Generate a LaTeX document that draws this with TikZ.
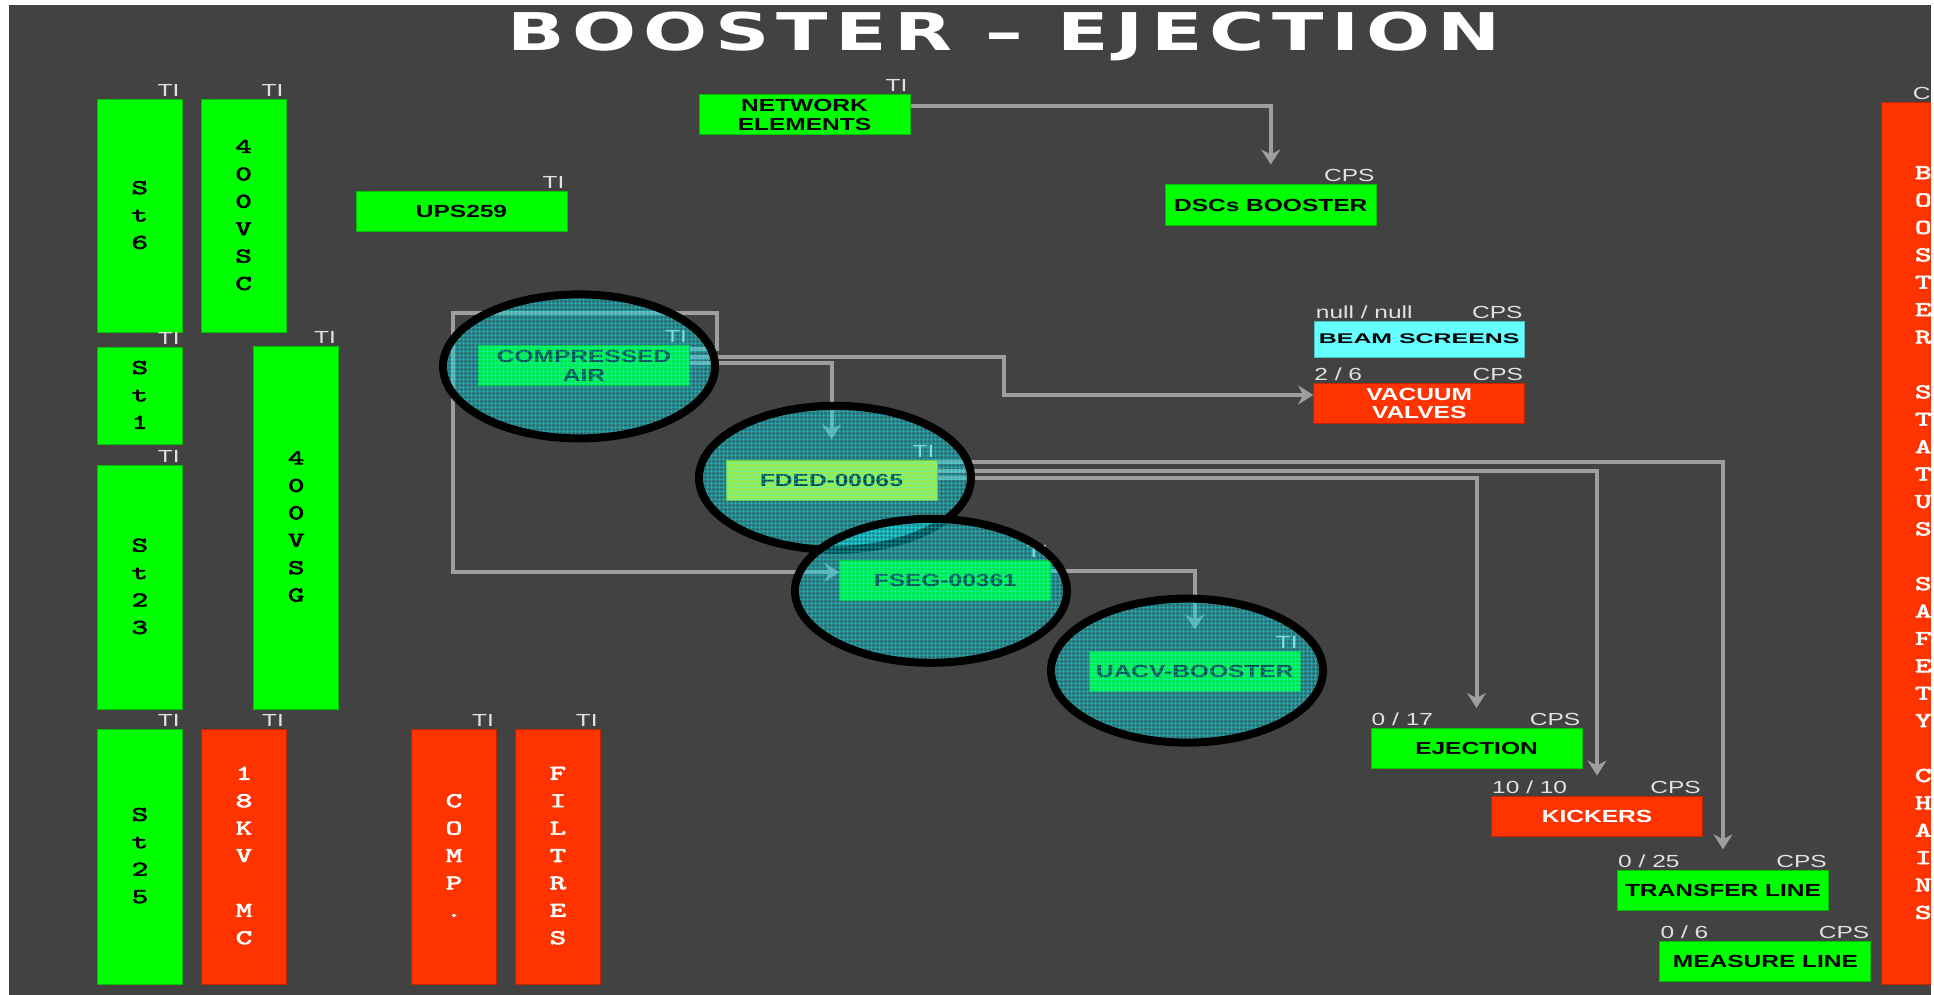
\documentclass[tikz,border=0pt]{standalone}
\usepackage{fontspec}
\usepackage{graphicx}
\usetikzlibrary{arrows.meta,patterns.meta,calc}
\newfontfamily\lblfont{Liberation Sans}[FakeStretch=1.4]
\newfontfamily\titlefont{DejaVu Sans}[FakeStretch=1.45,LetterSpace=14]
\newfontfamily\vfont{lmmono10-regular}[Extension=.otf,FakeBold=2.5]
\definecolor{bg}{RGB}{66,66,66}
\definecolor{okgreen}{RGB}{0,255,0}
\definecolor{alarm}{RGB}{255,51,0}
\definecolor{scrcyan}{RGB}{102,255,255}
\definecolor{warnyel}{RGB}{250,255,0}
\definecolor{wire}{RGB}{158,158,158}
\definecolor{lblgray}{RGB}{225,225,225}
\definecolor{ovl}{RGB}{0,200,212}
\definecolor{ovlg}{RGB}{40,255,255}
\newcommand\vst[1]{\scalebox{1.5}[1]{\begin{tabular}{@{}c@{}}#1\end{tabular}}}
\begin{document}
\begin{tikzpicture}[x=1pt,y=-1pt,
  vcell/.style={draw=#1!75!black, line width=1pt, fill=#1, minimum width=85pt, inner sep=0pt,
    font=\vfont\fontsize{21}{27.4}\selectfont},
  hcell/.style={draw=#1!75!black, line width=1pt, fill=#1, minimum width=211pt, minimum height=40pt,
    inner sep=0pt, align=center, font=\lblfont\bfseries\fontsize{17.5}{18.4}\selectfont},
  lbl/.style={text=lblgray, inner sep=0pt, font=\lblfont\fontsize{17.5}{18}\selectfont},
  tir/.style={lbl, anchor=base east},
  til/.style={lbl, anchor=base west},
  wire/.style={draw=wire, line width=4pt, -{Stealth[length=15pt,width=19pt,inset=5pt]}},
  ovlfill/.style={fill=ovl, fill opacity=0.38},
  ovlgrid/.style={pattern={Hatch[angle=0,distance=4pt,line width=1pt]}, pattern color=ovlg, fill opacity=0.38},
  ring/.style={draw=black, line width=8pt}
]
\useasboundingbox (0,0) rectangle (1934,995);
\fill[white] (0,0) rectangle (1934,995);
\fill[bg] (9,5) rectangle (1931,995);

% title
\node[font=\titlefont\bfseries\fontsize{52}{52}\selectfont, text=white, anchor=base, inner sep=0pt] (title) at (1004.5,51) {BOOSTER – EJECTION};

% vertical boxes
\node[vcell=okgreen, minimum height=232pt] (st6) at (139.7,216) {\vst{S\\t\\6}};
\node[vcell=okgreen, minimum height=232pt] (vsc) at (243.6,216) {\vst{4\\0\\0\\V\\S\\C}};
\node[vcell=okgreen, minimum height=96.5pt] (st1) at (139.8,395.9) {\vst{S\\t\\1}};
\node[vcell=okgreen, minimum height=363pt] (vsg) at (296.2,527.5) {\vst{4\\0\\0\\V\\S\\G}};
\node[vcell=okgreen, minimum height=244.5pt] (st23) at (139.8,587.3) {\vst{S\\t\\2\\3}};
\node[vcell=okgreen, minimum height=255pt] (st25) at (139.9,856.5) {\vst{S\\t\\2\\5}};
\node[vcell=alarm, text=white, minimum height=255pt] (kv) at (244,856.5) {\vst{1\\8\\K\\V\\ \\M\\C}};
\node[vcell=alarm, text=white, minimum height=255pt] (comp) at (454,856.5) {\vst{C\\O\\M\\P\\.}};
\node[vcell=alarm, text=white, minimum height=255pt] (filt) at (557.9,856.5) {\vst{F\\I\\L\\T\\R\\E\\S}};
\node[vcell=alarm, text=white, minimum width=83.5pt, minimum height=881pt] (bsc) at (1923.25,543.5)
  {\vst{B\\O\\O\\S\\T\\E\\R\\ \\S\\T\\A\\T\\U\\S\\ \\S\\A\\F\\E\\T\\Y\\ \\C\\H\\A\\I\\N\\S}};

% horizontal boxes
\node[hcell=okgreen] (ups) at (461.5,211.7) {UPS259};
\node[hcell=okgreen] (ne) at (804.5,115) {NETWORK\\ELEMENTS};
\node[hcell=okgreen] (dsc) at (1270.75,205) {DSCs BOOSTER};
\node[hcell=scrcyan, minimum height=36pt, minimum width=210pt] (beam) at (1419.2,339.1)
  {\fontsize{14}{14}\selectfont\scalebox{1.27}[1]{BEAM SCREENS}};
\node[hcell=alarm, text=white] (vv) at (1419.2,403.3) {VACUUM\\VALVES};
\node[hcell=okgreen] (ca) at (584,365.9) {COMPRESSED\\AIR};
\node[hcell=warnyel] (fded) at (831.5,480) {FDED-00065};
\node[hcell=okgreen] (fseg) at (945.3,580.9) {FSEG-00361};
\node[hcell=okgreen] (uacv) at (1194.75,671) {UACV-BOOSTER};
\node[hcell=okgreen] (ej) at (1476.5,748.5) {EJECTION};
\node[hcell=alarm, text=white] (kick) at (1597,816.5) {KICKERS};
\node[hcell=okgreen] (tl) at (1723,890.2) {TRANSFER LINE};
\node[hcell=okgreen] (ml) at (1765.4,961.9) {MEASURE LINE};

% labels
\foreach \n in {st6,vsc,st1,vsg,st23,st25,kv,comp,filt,ups,ne,ca,fded,fseg,uacv}
  \node[tir] (\n-ti) at ([xshift=-3pt,yshift=2.5pt]\n.north east) {TI};
\foreach \n in {dsc,beam,vv,ej,kick,tl,ml,bsc}
  \node[tir] (\n-cps) at ([xshift=-2pt,yshift=2.5pt]\n.north east) {CPS};
\node[til] (beam-cnt) at ([xshift=2pt,yshift=2.5pt]beam.north west) {null / null};
\node[til] (vv-cnt) at ([xshift=1pt,yshift=2.5pt]vv.north west) {2 / 6};
\node[til] (ej-cnt) at ([xshift=1pt,yshift=2.5pt]ej.north west) {0 / 17};
\node[til] (kick-cnt) at ([xshift=1pt,yshift=2.5pt]kick.north west) {10 / 10};
\node[til] (tl-cnt) at ([xshift=1pt,yshift=2.5pt]tl.north west) {0 / 25};
\node[til] (ml-cnt) at ([xshift=1pt,yshift=2.5pt]ml.north west) {0 / 6};

% connectors
\coordinate (loopc) at (452.7,312.7);
\coordinate (vvbend) at (1003.6,395);
\draw[wire] ([yshift=9pt]ne.east) -| ([yshift=20pt]dsc.north);
\draw[wire] ([yshift=17pt]ca.east) -- ++(27,0) |- (loopc) |- ([yshift=8.6pt]fseg.west);
\draw[wire] ([yshift=9pt]ca.east) -| (vvbend) -- ([yshift=8.3pt]vv.west);
\draw[wire] ([yshift=3pt]ca.east) -| ([yshift=20pt]fded.north);
\draw[wire] ([yshift=18pt]fded.east) -| ([yshift=20.4pt]tl.north);
\draw[wire] ([yshift=9pt]fded.east) -| ([yshift=20.5pt]kick.north);
\draw[wire] ([yshift=2pt]fded.east) -| ([yshift=20pt]ej.north);
\draw[wire] ([yshift=10pt]fseg.east) -| ([yshift=21pt]uacv.north);

% highlight ellipses
\coordinate (e1) at (579,366.4);
\coordinate (e2) at (835,477.8);
\coordinate (e3) at (931,590.8);
\coordinate (e4) at (1187,670.6);
\foreach \c in {e1,e2,e3,e4}{
  \fill[ovlfill] (\c) ellipse [x radius=136pt, y radius=72pt];
  \fill[ovlgrid] (\c) ellipse [x radius=136pt, y radius=72pt];
  \draw[ring] (\c) ellipse [x radius=136pt, y radius=72pt];
}

% frame edge
\fill[white] (1931,0) rectangle (1934,995);
\end{tikzpicture}
\end{document}
